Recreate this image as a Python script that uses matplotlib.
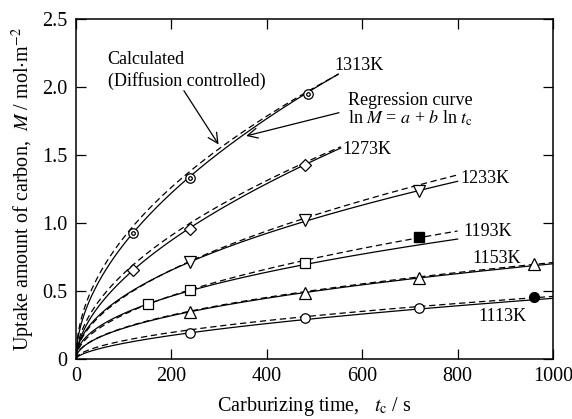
import numpy as np
import matplotlib
matplotlib.use("Agg")
import matplotlib.pyplot as plt

plt.rcParams['font.family'] = ['Liberation Serif', 'DejaVu Serif']
plt.rcParams['mathtext.fontset'] = 'stix'

# carburizing temperatures
temps = ["1313K", "1273K", "1233K", "1193K", "1153K", "1113K"]

# measured uptake (t_c in s, M in mol/m2)
t_1313 = [120, 240, 487]
m_1313 = [0.93, 1.33, 1.95]
t_1273 = [120, 240, 480]
m_1273 = [0.654, 0.956, 1.43]
t_1233 = [240, 480, 720]
m_1233 = [0.716, 1.022, 1.235]
t_1193 = [150, 240, 480]
m_1193 = [0.404, 0.507, 0.704]
t_1193_fill = [720]
m_1193_fill = [0.895]
t_1153 = [240, 480, 720, 960]
m_1153 = [0.348, 0.483, 0.598, 0.70]
t_1113 = [240, 480, 720]
m_1113 = [0.193, 0.299, 0.373]
t_1113_fill = [960]
m_1113_fill = [0.458]

# regression curves ln M = a + b ln t_c (solid)
reg_a = [-2.630, -3.125, -3.075, -3.244, -3.741, -4.862]
reg_b = [0.534, 0.564, 0.500, 0.4665, 0.490, 0.587]
# calculated, diffusion controlled (dashed)
calc_a = [-2.416, -2.904, -3.200, -3.463, -3.728, -4.458]
calc_b = [0.500, 0.530, 0.524, 0.509, 0.490, 0.533]
t_end = [550, 555, 800, 800, 1000, 1000]

# label positions (t, M)
lab_t = [541, 559, 806, 812, 832, 844]
lab_m = [2.157, 1.537, 1.329, 0.936, 0.740, 0.311]

fig = plt.figure(figsize=(5.72, 4.19), dpi=100)
ax = fig.add_axes([0.1329, 0.1432, 0.8339, 0.8115])

for i in range(len(temps)):
    t = np.linspace(0, t_end[i], 500)
    ax.plot(t, np.exp(reg_a[i]) * t ** reg_b[i], color='black', lw=0.9, zorder=2)
    ax.plot(t, np.exp(calc_a[i]) * t ** calc_b[i], color='black', lw=0.9,
            dashes=(5, 3), zorder=2)
    ax.text(lab_t[i], lab_m[i], temps[i], fontsize=13, ha='left', va='center',
            zorder=3)

mk = dict(color='black', ls='none', mfc='white', mec='black', mew=0.9, zorder=4)
ax.plot(t_1313, m_1313, marker='o', ms=6.8, **mk)
ax.plot(t_1313, m_1313, marker='o', ms=2.6, **mk)
ax.plot(t_1273, m_1273, marker='D', ms=6.2, **mk)
ax.plot(t_1233, m_1233, marker='v', ms=8, **mk)
ax.plot(t_1193, m_1193, marker='s', ms=7, **mk)
ax.plot(t_1193_fill, m_1193_fill, marker='s', ms=7, ls='none', color='black', zorder=4)
ax.plot(t_1153, m_1153, marker='^', ms=8, **mk)
ax.plot(t_1113, m_1113, marker='o', ms=6.8, **mk)
ax.plot(t_1113_fill, m_1113_fill, marker='o', ms=7, ls='none', color='black', zorder=4)

# annotations
ax.text(66, 2.199, "Calculated", fontsize=13, ha='left', va='center')
ax.text(66, 2.044, "(Diffusion controlled)", fontsize=13, ha='left', va='center')
ax.annotate("", xy=(302, 1.56), xytext=(223, 1.99),
            arrowprops=dict(arrowstyle='->', lw=0.9, color='black', mutation_scale=18))
ax.text(571, 1.904, "Regression curve", fontsize=13, ha='left', va='center')
ax.text(571, 1.772, r"ln $M$ = $a$ + $b$ ln $t_{\mathrm{c}}$", fontsize=13,
        ha='left', va='center')
ax.annotate("", xy=(351, 1.635), xytext=(557, 1.816),
            arrowprops=dict(arrowstyle='->', lw=0.9, color='black', mutation_scale=18))

ax.set_xlim(0, 1000)
ax.set_ylim(0, 2.5)
ax.set_xticks([0, 200, 400, 600, 800, 1000])
ax.set_yticks([0, 0.5, 1.0, 1.5, 2.0, 2.5])
ax.set_yticklabels(["0", "0.5", "1.0", "1.5", "2.0", "2.5"])
ax.tick_params(direction='in', length=7.5, width=0.9, labelsize=14.5,
               top=True, right=True, pad=6)
for s in ax.spines.values():
    s.set_linewidth(1.1)

ax.set_xlabel(r"Carburizing time,   $t_{\mathrm{c}}$ / s", fontsize=14.5, labelpad=6)
ax.set_ylabel(r"Uptake amount of carbon,  $M$ / mol$\cdot$m$^{-2}$", fontsize=14.5,
              labelpad=4)

fig.savefig("out.png", dpi=100)
